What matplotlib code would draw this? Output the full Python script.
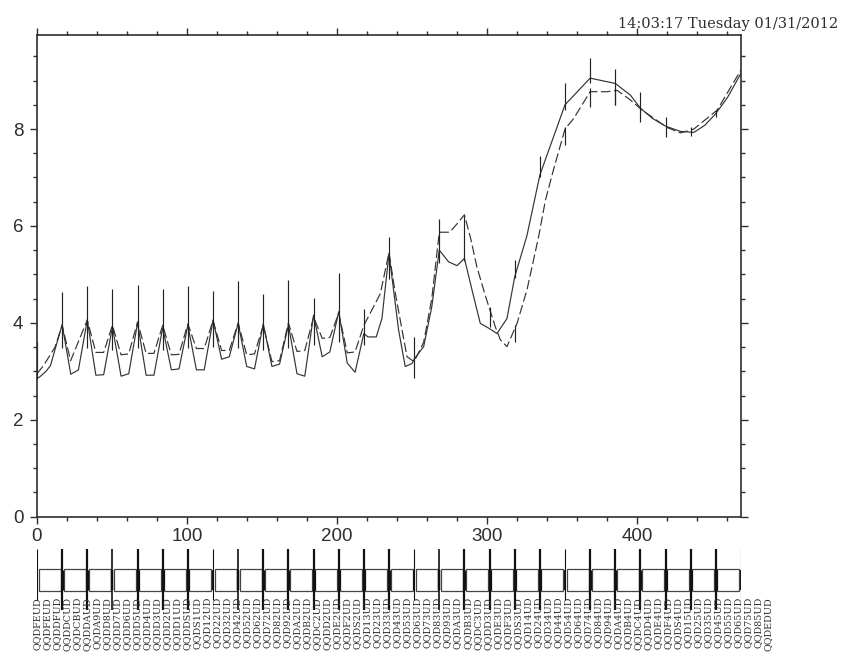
import numpy as np
import matplotlib
matplotlib.use("Agg")
import matplotlib.pyplot as plt
from matplotlib.ticker import MultipleLocator

# ---------------- data ----------------
x_solid = [0, 2, 6, 9, 12, 16.75,
           22.5, 27.6, 33.5,
           39.2, 44.4, 50.25,
           56.0, 61.1, 67.0,
           72.7, 77.9, 83.75,
           89.5, 94.6, 100.5,
           106.2, 111.4, 117.25,
           123.0, 128.1, 134.0,
           139.7, 144.9, 150.75,
           156.5, 161.6, 167.5,
           173.2, 178.4, 184.25,
           190.0, 195.1, 201.0,
           206.7, 211.9, 217.75,
           220.5, 226, 229.8, 234.5, 240.9, 245.3, 249.8, 251.25, 257.6, 263,
           268, 274.2, 279.8, 284.75, 289.8, 295.3, 301.5, 306.4, 313.1, 318.25,
           326.4, 335, 351.75, 368.5, 385.25, 395.3, 402, 410, 418.75, 428.7,
           437.6, 445, 452.25, 460, 469]
y_solid = [2.85, 2.89, 3.0, 3.12, 3.45, 3.96,
           2.94, 3.03, 4.06,
           2.92, 2.93, 3.92,
           2.90, 2.95, 4.00,
           2.92, 2.92, 3.90,
           3.03, 3.05, 3.95,
           3.03, 3.03, 4.06,
           3.25, 3.30, 3.99,
           3.10, 3.05, 3.98,
           3.10, 3.15, 3.96,
           2.95, 2.90, 4.16,
           3.30, 3.40, 4.23,
           3.17, 2.98, 3.78,
           3.71, 3.71, 4.09, 5.43, 3.85, 3.10, 3.16, 3.25, 3.51, 4.33,
           5.50, 5.26, 5.18, 5.33, 4.68, 3.99, 3.88, 3.78, 4.09, 4.95,
           5.80, 7.05, 8.50, 9.05, 8.94, 8.70, 8.43, 8.22, 8.06, 7.95,
           7.93, 8.08, 8.32, 8.65, 9.15]

x_dash = [0, 4.4, 12, 16.75, 22.4, 33.5,
          39.2, 44.4, 50.25,
          56.0, 61.1, 67.0,
          72.7, 77.9, 83.75,
          89.5, 94.6, 100.5,
          106.2, 111.4, 117.25,
          123.0, 128.1, 134.0,
          139.7, 144.9, 150.75,
          156.5, 161.6, 167.5,
          173.2, 178.4, 184.25,
          190.0, 195.1, 201.0,
          206.7, 211.9, 217.75,
          222, 228.7, 234.5, 238.7, 246.5, 251.25, 257.6, 263, 268, 275, 280,
          284.75, 289, 293, 298.9, 305.3, 308.7, 313.1, 319.8, 326.4, 334.2,
          338.7, 344, 351.75, 357.6, 368.5, 379.8, 386.4, 395.3, 403.1, 419.8,
          428.7, 437.6, 453.1, 469]
y_dash = [2.95, 3.12, 3.50, 3.95, 3.22, 4.06,
          3.39, 3.39, 3.95,
          3.34, 3.36, 4.02,
          3.37, 3.37, 3.95,
          3.34, 3.35, 3.98,
          3.47, 3.47, 4.05,
          3.43, 3.43, 4.00,
          3.34, 3.36, 3.95,
          3.20, 3.22, 4.00,
          3.41, 3.43, 4.12,
          3.68, 3.70, 4.20,
          3.38, 3.40, 3.95,
          4.20, 4.60, 5.45, 4.61, 3.30, 3.20, 3.60, 4.50, 5.87, 5.87, 6.05,
          6.23, 5.73, 5.16, 4.54, 3.92, 3.65, 3.51, 3.99, 4.68, 5.78,
          6.53, 7.15, 8.00, 8.22, 8.77, 8.77, 8.80, 8.60, 8.39, 8.03,
          7.92, 8.00, 8.39, 9.22]

spike_x = [0, 16.75, 33.5, 50.25, 67, 83.75, 100.5, 117.25, 134, 150.75, 167.5,
           184.25, 201, 217.75, 234.5, 251.25, 268, 284.75, 301.5, 318.25, 335,
           351.75, 368.5, 385.25, 402, 418.75, 435.5, 452.25]
spike_lo = [2.85, 3.48, 3.48, 3.45, 3.48, 3.45, 3.48, 3.50, 3.48, 3.45, 3.48,
            3.55, 3.60, 3.55, 4.90, 2.86, 5.23, 5.28, 3.92, 4.93, 7.00,
            8.40, 8.95, 8.50, 8.15, 7.84, 7.85, 8.25]
spike_hi = [3.60, 4.64, 4.77, 4.69, 4.78, 4.69, 4.76, 4.66, 4.86, 4.60, 4.89,
            4.52, 5.02, 4.28, 5.77, 3.71, 6.14, 6.20, 4.33, 5.30, 7.45,
            8.94, 9.46, 9.23, 8.77, 8.25, 8.05, 8.40]

dspike_x = [318.25, 351.75, 368.5, 385.25]
dspike_lo = [3.60, 7.66, 8.46, 8.50]
dspike_hi = [3.95, 8.05, 8.84, 8.80]

seg_bounds = [0, 16.75, 33.5, 50.25, 67, 83.75, 100.5, 117.25, 134, 150.75,
              167.5, 184.25, 201, 217.75, 234.5, 251.25, 268, 284.75, 301.5,
              318.25, 335, 351.75, 368.5, 385.25, 402, 418.75, 435.5, 452.25, 469]
bound_width = [0.8, 1.6, 1.6, 1.2, 1.6, 1.6, 1.6, 0.8, 1.2, 1.6, 1.6, 1.6, 1.6,
               1.6, 1.6, 0.8, 1.2, 1.6, 1.6, 1.6, 1.6, 0.8, 1.6, 1.6, 1.6, 1.6,
               1.6, 1.6, 0.8]

label_mid = ("FE FE DF DC CB DA A9 D8 D7 D6 D5 D4 D3 D2 D1 DS S1 12 22 32 "
             "42 52 62 72 82 92 A2 B2 C2 D2 E2 F2 S2 13 23 33 43 53 63 73 "
             "83 93 A3 B3 C3 D3 E3 F3 S3 14 24 34 44 54 64 74 84 94 A4 B4 "
             "C4 D4 E4 F4 S4 15 25 35 45 55 65 75 85 ED").split()
labels = ["QQD" + m + "UD" for m in label_mid]

title = "14:03:17 Tuesday 01/31/2012"

# ---------------- figure ----------------
W, H = 844, 654
fig = plt.figure(figsize=(W / 100, H / 100), dpi=100)
fig.patch.set_facecolor("white")

tick_family = "Liberation Sans"
tick_size = 13.5
ink = "#2e2e2e"

ax = fig.add_axes([37 / W, 1 - 516.7 / H, 704 / W, (516.7 - 35) / H])
ax.set_xlim(0, 469)
ax.set_ylim(0, 9.94)

line_c = "#333333"
ax.plot(x_solid, y_solid, color=line_c, lw=0.85)
ax.plot(x_dash, y_dash, color=line_c, lw=0.85, dashes=(8, 3))
ax.vlines(spike_x, spike_lo, spike_hi, color="#222222", lw=0.85)
ax.vlines(dspike_x, dspike_lo, dspike_hi, color="#222222", lw=0.85)

ax.xaxis.set_major_locator(MultipleLocator(100))
ax.xaxis.set_minor_locator(MultipleLocator(20))
ax.yaxis.set_major_locator(MultipleLocator(2))
ax.yaxis.set_minor_locator(MultipleLocator(0.5))
ax.tick_params(which="both", direction="out", top=True, right=True,
               labeltop=False, labelright=False, color=ink, width=1.0)
ax.tick_params(which="major", length=5.2)
ax.tick_params(which="minor", length=3.2)
ax.tick_params(axis="x", which="major", pad=2.6)
ax.tick_params(axis="y", which="major", pad=4.6)
for lab in ax.get_xticklabels() + ax.get_yticklabels():
    lab.set_family(tick_family)
    lab.set_fontsize(tick_size)
    lab.set_color(ink)
for sp in ax.spines.values():
    sp.set_linewidth(1.2)
    sp.set_color(ink)

fig.text(838 / W, 1 - 28 / H, title, ha="right", va="baseline",
         family="DejaVu Serif", fontsize=10.5, color=ink)

# ---------------- strip below the axes ----------------
ax2 = fig.add_axes([37 / W, 0, 704 / W, 105 / H])
ax2.set_xlim(0, 469)
ax2.set_ylim(0, 105)
ax2.axis("off")
for i in range(len(seg_bounds) - 1):
    left = seg_bounds[i] + 1.0
    width = seg_bounds[i + 1] - seg_bounds[i] - 2.0
    ax2.add_patch(plt.Rectangle((left, 63), width, 22, fill=False,
                                edgecolor="#444444", lw=0.9))
for xb, w in zip(seg_bounds, bound_width):
    low = 44 if w > 1.0 else 54
    ax2.vlines(xb, low, 105, color="#111111", lw=w)
    ax2.vlines(xb, 64, 84, color="#111111", lw=w + 0.6)

lab_x = np.linspace(0, 487, len(labels))
for xl, t in zip(lab_x, labels):
    ax2.text(xl, 57, t, rotation=90, ha="center", va="top",
             family="DejaVu Serif", fontsize=6.9, color=ink)

fig.savefig("out.png", dpi=100)
